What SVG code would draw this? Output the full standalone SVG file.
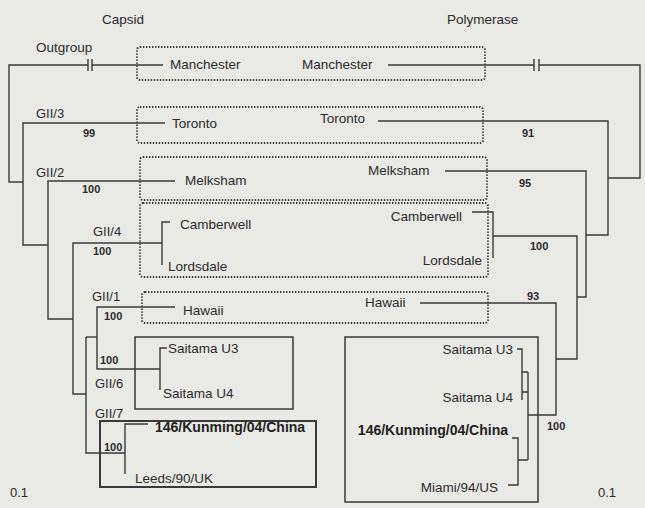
<svg xmlns="http://www.w3.org/2000/svg" width="645" height="508" viewBox="0 0 645 508">
<style>
.bg{fill:#e9e9e5}
.ln{fill:none;stroke:#3a3a3a;stroke-width:1.4}
.dot{fill:none;stroke:#3a3a3a;stroke-width:2;stroke-dasharray:1.4 1.6}
.box{fill:none;stroke:#3a3a3a;stroke-width:1.5}
.t{font-family:"Liberation Sans",Arial,sans-serif;font-size:13.5px;fill:#2c2c2c}
.g{font-family:"Liberation Sans",Arial,sans-serif;font-size:13px;fill:#2c2c2c}
.n{font-family:"Liberation Sans",Arial,sans-serif;font-size:11px;fill:#2c2c2c;font-weight:bold}
.b{font-family:"Liberation Sans",Arial,sans-serif;font-size:14px;fill:#222;font-weight:bold}
.e{text-anchor:end}
</style>
<rect class="bg" width="645" height="508"/>

<g id="headers">
<text class="t" x="102" y="24">Capsid</text>
<text class="t" x="447" y="24">Polymerase</text>
</g>

<g id="boxes">
<rect class="dot" x="137" y="47" width="348" height="33" rx="3"/>
<rect class="dot" x="137" y="107" width="346" height="36" rx="3"/>
<rect class="dot" x="140" y="157" width="347" height="43" rx="3"/>
<rect class="dot" x="140" y="203" width="348" height="74" rx="3"/>
<rect class="dot" x="142" y="292" width="346" height="31" rx="3"/>
<rect class="box" x="135" y="337" width="158" height="72"/>
<rect class="box" x="100" y="421" width="216" height="66" style="stroke-width:2"/>
<rect class="box" x="345" y="337" width="193" height="165"/>
</g>

<g id="connectors">
<!-- capsid tree -->
<path class="ln" d="M163,65 H92 M88,65 H9 V182 H23"/>
<path class="ln" d="M88,59 V71 M92,59 V71"/>
<path class="ln" d="M165,123 H23 V245 H48"/>
<path class="ln" d="M175,181 H48 V319 H73"/>
<path class="ln" d="M162,243 H73 V394 H86"/>
<path class="ln" d="M170,222 H162 V265"/>
<path class="ln" d="M175,307 H97 V369 H160"/>
<path class="ln" d="M86,337 H97"/>
<path class="ln" d="M167,348 H160 V390"/>
<path class="ln" d="M86,337 V453 H125"/>
<path class="ln" d="M148,424 H125 V474"/>
<!-- polymerase tree -->
<path class="ln" d="M388,65 H534 M539,65 H640 V178 H608"/>
<path class="ln" d="M534,59 V71 M539,59 V71"/>
<path class="ln" d="M378,121 H608 V235 H586"/>
<path class="ln" d="M445,171 H586 V297 H577"/>
<path class="ln" d="M472,212 H493 V258 M493,236 H577 V359 H556"/>
<path class="ln" d="M420,303 H556 V415 H528"/>
<path class="ln" d="M528,372 V460"/>
<path class="ln" d="M517,349 H522 V400 M522,372 H528 M522,392 H528"/>
<path class="ln" d="M512,438 H518 V485 H508 M518,460 H528"/>
</g>

<g id="outgroup"><text class="t" x="36" y="52">Outgroup</text></g>
<g id="manchester">
<text class="t" x="170" y="69">Manchester</text>
<text class="t" x="302" y="69">Manchester</text>
</g>
<g id="gii3">
<text class="g" x="36" y="118">GII/3</text>
<text class="n" x="83" y="137">99</text>
<text class="t" x="172" y="128">Toronto</text>
<text class="t" x="320" y="123">Toronto</text>
<text class="n" x="522" y="137">91</text>
</g>
<g id="gii2">
<text class="g" x="36" y="177">GII/2</text>
<text class="n" x="82" y="193">100</text>
<text class="t" x="185" y="185">Melksham</text>
<text class="t" x="368" y="175">Melksham</text>
<text class="n" x="519" y="187">95</text>
</g>
<g id="gii4">
<text class="g" x="93" y="236">GII/4</text>
<text class="n" x="93" y="255">100</text>
<text class="t" x="180" y="229">Camberwell</text>
<text class="t" x="168" y="271">Lordsdale</text>
<text class="t e" x="462" y="221">Camberwell</text>
<text class="t e" x="482" y="265">Lordsdale</text>
<text class="n" x="530" y="250">100</text>
</g>
<g id="gii1">
<text class="g" x="92" y="301">GII/1</text>
<text class="n" x="104" y="320">100</text>
<text class="t" x="183" y="315">Hawaii</text>
<text class="t" x="365" y="307">Hawaii</text>
<text class="n" x="527" y="300">93</text>
</g>
<g id="gii6">
<text class="n" x="100" y="364">100</text>
<text class="g" x="95" y="388">GII/6</text>
<text class="t" x="168" y="353">Saitama U3</text>
<text class="t" x="163" y="398">Saitama U4</text>
<text class="t e" x="513" y="354">Saitama U3</text>
<text class="t e" x="513" y="402">Saitama U4</text>
<text class="n" x="547" y="430">100</text>
</g>
<g id="gii7">
<text class="g" x="95" y="418">GII/7</text>
<text class="n" x="104" y="451">100</text>
<text class="b" x="155" y="432">146/Kunming/04/China</text>
<text class="t" x="135" y="483">Leeds/90/UK</text>
<text class="b e" x="508" y="435">146/Kunming/04/China</text>
<text class="t e" x="498" y="492">Miami/94/US</text>
</g>
<g id="scales">
<text class="g" x="10" y="497">0.1</text>
<text class="g" x="598" y="497">0.1</text>
</g>
</svg>
